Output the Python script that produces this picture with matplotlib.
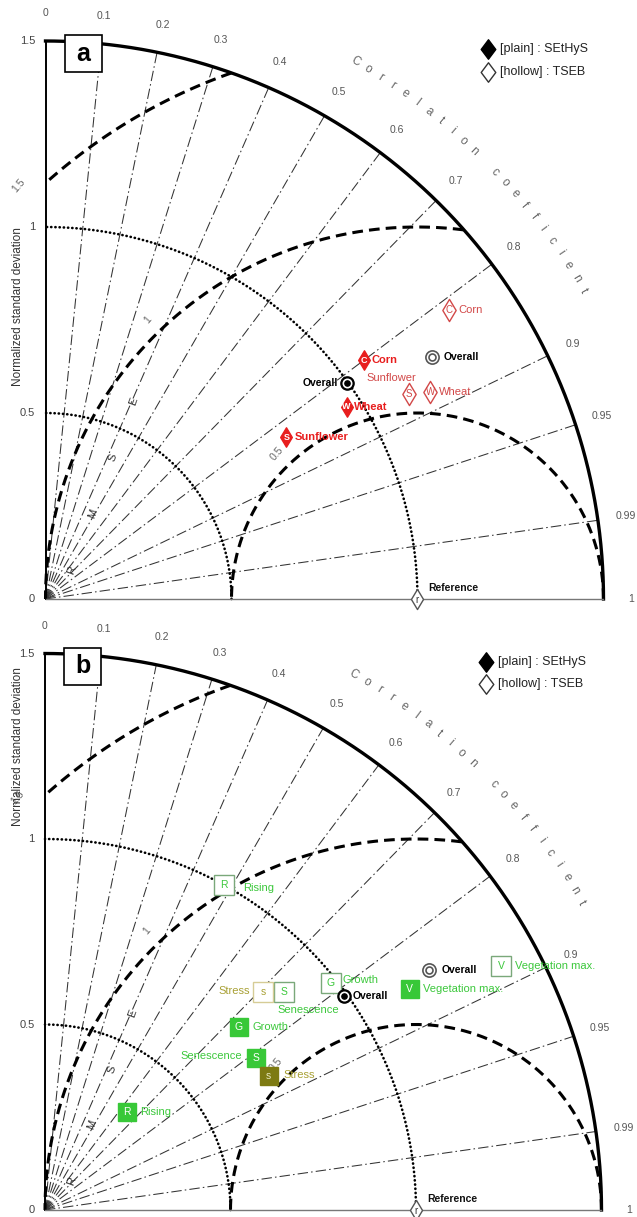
import numpy as np
import matplotlib.pyplot as plt
from matplotlib.path import Path
from matplotlib.patches import Rectangle

plt.rcParams['font.family'] = ['Liberation Sans', 'DejaVu Sans']

# ---- panel a : crops (normalized std, correlation) ----
crops = ['Corn', 'Wheat', 'Sunflower']
crop_letters = ['C', 'W', 'S']
sethys_std_a = [1.07, 0.96, 0.78]
sethys_corr_a = [0.80, 0.843, 0.83]
tseb_std_a = [1.334, 1.174, 1.122]
tseb_corr_a = [0.813, 0.881, 0.871]
overall_std_a = [0.997, 1.226]   # SEtHyS, TSEB
overall_corr_a = [0.813, 0.847]

# ---- panel b : growing stages ----
stages = ['Rising', 'Growth', 'Vegetation max.', 'Senescence', 'Stress']
stage_letters = ['R', 'G', 'V', 'S', 's']
sethys_std_b = [0.344, 0.719, 1.150, 0.701, 0.703]
sethys_corr_b = [0.642, 0.727, 0.855, 0.811, 0.858]
tseb_std_b = [1.000, 0.984, 1.394, 0.872, 0.831]
tseb_corr_b = [0.482, 0.783, 0.882, 0.739, 0.707]
overall_std_b = [0.991, 1.220]
overall_corr_b = [0.813, 0.848]

corr_ticks = [0, 0.1, 0.2, 0.3, 0.4, 0.5, 0.6, 0.7, 0.8, 0.9, 0.95, 0.99, 1]
std_ticks = [0, 0.5, 1, 1.5]
std_arcs = [0.5, 1.0]
rmse_levels = [0.5, 1, 1.5]
rmse_labels = ['0.5', '1', '1.5']

RMAX = 1.5

red_fill = '#e81e1e'
red_hollow = '#d24848'
green_fill = '#38c838'
green_text = '#3cc83c'
green_edge = '#7aa87a'
stress_fill = '#7d7a12'
stress_text = '#a8a034'
stress_edge = '#d6cc96'

diamond = Path([(0, 1), (0.6, 0), (0, -1), (-0.6, 0), (0, 1)],
               [Path.MOVETO, Path.LINETO, Path.LINETO, Path.LINETO, Path.CLOSEPOLY])
wide_diamond = Path([(0, 1), (0.75, 0), (0, -1), (-0.75, 0), (0, 1)],
                    [Path.MOVETO, Path.LINETO, Path.LINETO, Path.LINETO, Path.CLOSEPOLY])


def to_xy(std, corr):
    std = np.asarray(std, dtype=float)
    corr = np.asarray(corr, dtype=float)
    return std * corr, std * np.sqrt(1 - corr ** 2)


def draw_frame(ax, letter, ylabel_y):
    t = np.linspace(0, np.pi / 2, 400)
    ax.plot(RMAX * np.cos(t), RMAX * np.sin(t), color='k', lw=2.4, zorder=3, clip_on=False)
    ax.plot([0, 0], [0, RMAX], color='k', lw=1.4, zorder=3, clip_on=False)
    ax.plot([0, RMAX], [0, 0], color='#777777', lw=1.0, zorder=3, clip_on=False)

    # std dev arcs
    for r in std_arcs:
        ax.plot(r * np.cos(t), r * np.sin(t), color='k', lw=1.9,
                ls=(0, (0.1, 1.5)), dash_capstyle='round', zorder=2)

    # rmse arcs centred on the reference point
    th = np.linspace(0, np.pi, 800)
    for r, lab in zip(rmse_levels, rmse_labels):
        x = 1 + r * np.cos(th)
        y = r * np.sin(th)
        m = (x ** 2 + y ** 2 <= RMAX ** 2 + 1e-9) & (x >= -1e-9)
        ax.plot(x[m], y[m], color='k', lw=2.2, ls=(0, (3.5, 2)), zorder=2)
        a = np.deg2rad(134)
        ax.text(1 + (r + 0.045) * np.cos(a), (r + 0.045) * np.sin(a), lab,
                rotation=50, color='#666666', fontsize=7.5, ha='center', va='center', zorder=2)

    # correlation lines and labels
    for c in corr_ticks:
        s = np.sqrt(1 - c ** 2)
        if 0 < c < 1:
            ax.plot([0, RMAX * c], [0, RMAX * s], color='#333333', lw=0.75,
                    ls=(0, (10, 3, 1.5, 3)), zorder=1)
        lab = ('%g' % c)
        ax.text(1.575 * c, 1.575 * s, lab, color='#555555', fontsize=7.5,
                ha='center', va='center')

    for i, ch in enumerate('Correlation coefficient'):
        a = 60.05 - i * 1.375
        ar = np.deg2rad(a)
        ax.text(1.667 * np.cos(ar), 1.667 * np.sin(ar), ch, rotation=a - 90,
                color='#666666', fontsize=8.5, ha='center', va='center')

    # R M S E letters
    p0 = np.array([0.071, 0.078])
    p1 = np.array([0.236, 0.530])
    for i, ch in enumerate('RMSE'):
        p = p0 + (p1 - p0) * i / 3
        ax.text(p[0], p[1], ch, rotation=70, color='#333333', fontsize=8,
                ha='center', va='center', zorder=2)

    # std tick labels
    for v in std_ticks:
        ax.text(-0.028, v, '%g' % v, color='#444444', fontsize=8, ha='right', va='center')
    ax.text(-0.074, ylabel_y, 'Normalized standard deviation', rotation=90,
            color='#333333', fontsize=8.5, ha='center', va='center')

    # reference
    ax.plot(1, 0, marker=diamond, ms=14.5, mfc='white', mec='#555555', mew=1.0,
            ls='none', zorder=6, clip_on=False)
    ax.text(1, -0.004, 'r', fontsize=7, ha='center', va='center', color='#333333', zorder=7)
    ax.text(1.03, 0.03, 'Reference', fontsize=7.5, fontweight='bold', ha='left',
            va='center', color='#111111')

    # panel letter box
    ax.add_patch(Rectangle((0.052, 1.416), 0.1, 0.1, facecolor='white',
                           edgecolor='k', lw=1.2, zorder=8, clip_on=False))
    ax.text(0.102, 1.466, letter, fontsize=18, fontweight='bold', ha='center',
            va='center', zorder=9)

    # legend
    ax.plot(1.19, 1.478, marker=wide_diamond, ms=14, mfc='k', mec='k', ls='none', clip_on=False)
    ax.plot(1.19, 1.417, marker=wide_diamond, ms=14, mfc='white', mec='#333333',
            mew=1.0, ls='none', clip_on=False)
    ax.text(1.222, 1.478, '[plain] : SEtHyS', fontsize=9, color='#222222', va='center')
    ax.text(1.222, 1.417, '[hollow] : TSEB', fontsize=9, color='#222222', va='center')


def point(ax, x, y, shape, ms, face, edge, letter, lcolor, lsize=6.5, mew=1.0, bold=False):
    ax.plot(x, y, marker=shape, ms=ms, mfc=face, mec=edge, mew=mew, ls='none',
            zorder=6, clip_on=False)
    ax.text(x, y, letter, color=lcolor, fontsize=lsize, ha='center', va='center',
            fontweight='bold' if bold else 'normal', zorder=7)


def label(ax, x, y, text, dx, dy, color, ha='left', bold=False, size=8):
    ax.annotate(text, (x, y), xytext=(dx, dy), textcoords='offset pixels',
                color=color, fontsize=size, ha=ha, va='center',
                fontweight='bold' if bold else 'normal', zorder=8)


def overall(ax, x, y, filled):
    if filled:
        ax.plot(x, y, 'o', ms=9.5, mfc='k', mec='k', zorder=6)
        ax.plot(x, y, 'o', ms=6.2, mfc='white', mec='white', zorder=6)
        ax.plot(x, y, 'o', ms=3.8, mfc='k', mec='k', zorder=6)
    else:
        ax.plot(x, y, 'o', ms=9.5, mfc='white', mec='#555555', mew=1.2, zorder=6)
        ax.plot(x, y, 'o', ms=5.0, mfc='white', mec='#555555', mew=1.2, zorder=6)


fig = plt.figure(figsize=(6.37, 12.17), dpi=100)

# ---------------- panel a ----------------
ax = fig.add_axes([0, (1217 - 608) / 1217, 1, 608 / 1217])
ax.set_xlim(-45.5 / 372, (637 - 45.5) / 372)
ax.set_ylim((599 - 608) / 372, 599 / 372)
ax.axis('off')
draw_frame(ax, 'a', 0.785)

xs, ys = to_xy(sethys_std_a, sethys_corr_a)
xh, yh = to_xy(tseb_std_a, tseb_corr_a)
xo, yo = to_xy(overall_std_a, overall_corr_a)

for i, name in enumerate(crops):
    point(ax, xh[i], yh[i], diamond, 16, 'white', red_hollow, crop_letters[i], red_hollow, 7)
    point(ax, xs[i], ys[i], diamond, 14, red_fill, red_fill, crop_letters[i], 'white', 6.5, bold=True)

# hollow labels
label(ax, xh[0], yh[0], 'Corn', 9, 0, red_hollow)
label(ax, xh[1], yh[1], 'Wheat', 9, 0, red_hollow)
label(ax, xh[2], yh[2], 'Sunflower', -18, 16, red_hollow, ha='center')
# plain labels
label(ax, xs[0], ys[0], 'Corn', 8, 0, red_fill, bold=True)
label(ax, xs[1], ys[1], 'Wheat', 7, 0, red_fill, bold=True)
label(ax, xs[2], ys[2], 'Sunflower', 8, 0, red_fill, bold=True)

overall(ax, xo[1], yo[1], False)
overall(ax, xo[0], yo[0], True)
label(ax, xo[1], yo[1], 'Overall', 12, 0, 'k', bold=True, size=7.5)
label(ax, xo[0], yo[0], 'Overall', -9, 0, 'k', ha='right', bold=True, size=7.5)

# ---------------- panel b ----------------
ax = fig.add_axes([0, 0, 1, 609 / 1217])
ax.set_xlim(-45 / 371, (637 - 45) / 371)
ax.set_ylim((1210 - 1217) / 371, (1210 - 608) / 371)
ax.axis('off')
draw_frame(ax, 'b', 1.25)

xs, ys = to_xy(sethys_std_b, sethys_corr_b)
xh, yh = to_xy(tseb_std_b, tseb_corr_b)
xo, yo = to_xy(overall_std_b, overall_corr_b)

for i, name in enumerate(stages):
    stress = stage_letters[i] == 's'
    point(ax, xh[i], yh[i], 's', 14.5, 'white', stress_edge if stress else green_edge,
          stage_letters[i], stress_text if stress else green_text, 7.5, mew=1.0)
for i, name in enumerate(stages):
    stress = stage_letters[i] == 's'
    point(ax, xs[i], ys[i], 's', 13, stress_fill if stress else green_fill,
          stress_fill if stress else green_fill, stage_letters[i],
          '#e8e8c0' if stress else 'white', 7.5)

# hollow labels: Rising, Growth, Veg max, Senescence, Stress
label(ax, xh[0], yh[0], 'Rising', 19, -3, green_text)
label(ax, xh[1], yh[1], 'Growth', 12, 3, green_text)
label(ax, xh[2], yh[2], 'Vegetation max.', 14, 0, green_text)
label(ax, xh[3], yh[3], 'Senescence', 24, -18, green_text, ha='center')
label(ax, xh[4], yh[4], 'Stress', -13, 1, stress_text, ha='right')
# plain labels
label(ax, xs[0], ys[0], 'Rising', 13, 0, green_text)
label(ax, xs[1], ys[1], 'Growth', 14, 0, green_text)
label(ax, xs[2], ys[2], 'Vegetation max.', 13, 0, green_text)
label(ax, xs[3], ys[3], 'Senescence', -14, 2, green_text, ha='right')
label(ax, xs[4], ys[4], 'Stress', 15, 1, stress_text)

overall(ax, xo[1], yo[1], False)
overall(ax, xo[0], yo[0], True)
label(ax, xo[1], yo[1], 'Overall', 13, 0, 'k', bold=True, size=7.5)
label(ax, xo[0], yo[0], 'Overall', 9, 0, 'k', bold=True, size=7.5)

fig.savefig('out.png', dpi=100)
